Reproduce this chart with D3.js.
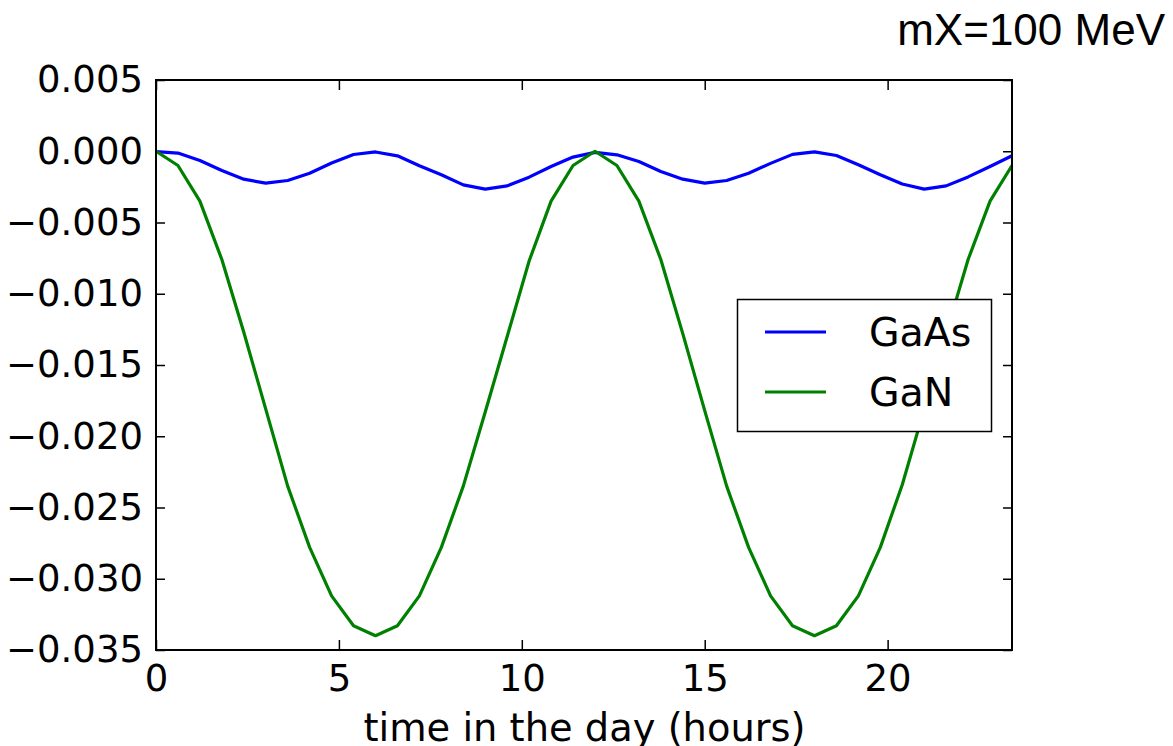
<!DOCTYPE html>
<html>
<head>
<meta charset="utf-8">
<script src="https://cdn.jsdelivr.net/npm/d3@7"></script>
<style>
  html, body { margin: 0; padding: 0; background: #fff; }
  svg { display: block; }
  text { font-family: "DejaVu Sans", sans-serif; fill: #000; }
</style>
</head>
<body>
<svg id="chart" width="1173" height="746"></svg>
<script>
// Time of day (hours), sampled every 0.6 h
const hours = [0, 0.6, 1.2, 1.8, 2.4, 3.0, 3.6, 4.2, 4.8, 5.4,
               6.0, 6.6, 7.2, 7.8, 8.4, 9.0, 9.6, 10.2, 10.8, 11.4,
               12.0, 12.6, 13.2, 13.8, 14.4, 15.0, 15.6, 16.2, 16.8, 17.4,
               18.0, 18.6, 19.2, 19.8, 20.4, 21.0, 21.6, 22.2, 22.8, 23.4];

// Daily modulation for the GaAs target
const gaas = [-0.00002, -0.00013, -0.00065, -0.00135, -0.00196, -0.00224, -0.00205, -0.00154, -0.00083, -0.00023,
              -0.00005, -0.00032, -0.00102, -0.00165, -0.00236, -0.00266, -0.00243, -0.00182, -0.00107, -0.00041,
              -0.00008, -0.00025, -0.00072, -0.00142, -0.00196, -0.00224, -0.00205, -0.00154, -0.00085, -0.00022,
              -0.00004, -0.00030, -0.00095, -0.00165, -0.00230, -0.00266, -0.00243, -0.00180, -0.00107, -0.00032];

// Daily modulation for the GaN target
const gan = [0.0000, -0.0010, -0.0035, -0.0076, -0.0127, -0.0181, -0.0235, -0.0278, -0.0312, -0.0333,
             -0.0340, -0.0333, -0.0312, -0.0278, -0.0235, -0.0183, -0.0130, -0.0077, -0.0035, -0.0010,
             0.0000, -0.0010, -0.0035, -0.0076, -0.0128, -0.0182, -0.0235, -0.0278, -0.0312, -0.0333,
             -0.0340, -0.0333, -0.0312, -0.0278, -0.0234, -0.0181, -0.0128, -0.0076, -0.0035, -0.0010];

const xTicks = [0, 5, 10, 15, 20];
const yTicks = [0.005, 0.000, -0.005, -0.010, -0.015, -0.020, -0.025, -0.030, -0.035];

const seriesNames = ["GaAs", "GaN"];
const seriesColors = ["#0000ff", "#008000"];

const svg = d3.select("#chart");
const L = 156, R = 1012, T = 80, B = 650;

const x = d3.scaleLinear().domain([0, 23.4]).range([L, R]);
const y = d3.scaleLinear().domain([-0.035, 0.005]).range([B, T]);

const fs = 37;
const fmtY = d3.format(".3f");

// axes with inward ticks on all four sides
const gB = svg.append("g").attr("transform", `translate(0,${B})`)
  .call(d3.axisBottom(x).tickValues(xTicks).tickSize(-10).tickPadding(15).tickFormat(d3.format("d")));
const gT = svg.append("g").attr("transform", `translate(0,${T})`)
  .call(d3.axisTop(x).tickValues(xTicks).tickSize(-10).tickFormat(""));
const gL = svg.append("g").attr("transform", `translate(${L},0)`)
  .call(d3.axisLeft(y).tickValues(yTicks).tickSize(-9).tickPadding(13).tickFormat(fmtY));
const gR = svg.append("g").attr("transform", `translate(${R},0)`)
  .call(d3.axisRight(y).tickValues(yTicks).tickSize(-9).tickFormat(""));

[gB, gT, gL, gR].forEach(g => {
  g.select(".domain").remove();
  g.selectAll(".tick line").attr("stroke", "#000").attr("stroke-width", 1.5);
  g.selectAll(".tick text").style("font-family", "DejaVu Sans").style("font-size", fs + "px").attr("fill", "#000");
});

// series lines
const line = d3.line().x(d => x(d[0])).y(d => y(d[1]));
const series = [gaas, gan];
series.forEach((vals, i) => {
  svg.append("path")
    .datum(hours.map((h, k) => [h, vals[k]]))
    .attr("fill", "none")
    .attr("stroke", seriesColors[i])
    .attr("stroke-width", 3.2)
    .attr("stroke-linejoin", "round")
    .attr("d", line);
});

// plot frame
svg.append("rect")
  .attr("x", L).attr("y", T).attr("width", R - L).attr("height", B - T)
  .attr("fill", "none").attr("stroke", "#000").attr("stroke-width", 2);

// legend
const lg = svg.append("g");
lg.append("rect")
  .attr("x", 737.5).attr("y", 299.5).attr("width", 254).attr("height", 132)
  .attr("fill", "#fff").attr("stroke", "#000").attr("stroke-width", 1.5);
seriesNames.forEach((name, i) => {
  const yy = 332 + i * 60;
  lg.append("line").attr("x1", 765).attr("x2", 826).attr("y1", yy).attr("y2", yy)
    .attr("stroke", seriesColors[i]).attr("stroke-width", 3.2);
  lg.append("text").attr("x", 869).attr("y", yy + 14)
    .style("font-size", "39.5px").text(name);
});

// axis label
svg.append("text")
  .attr("x", (L + R) / 2 + 0.5).attr("y", 741)
  .attr("text-anchor", "middle")
  .style("font-size", "38.4px")
  .text("time in the day (hours)");

// title
svg.append("text")
  .attr("x", 1165).attr("y", 45)
  .attr("text-anchor", "end")
  .style("font-family", "Liberation Sans, Arial, sans-serif")
  .style("font-size", "44px")
  .text("mX=100 MeV");
</script>
</body>
</html>
